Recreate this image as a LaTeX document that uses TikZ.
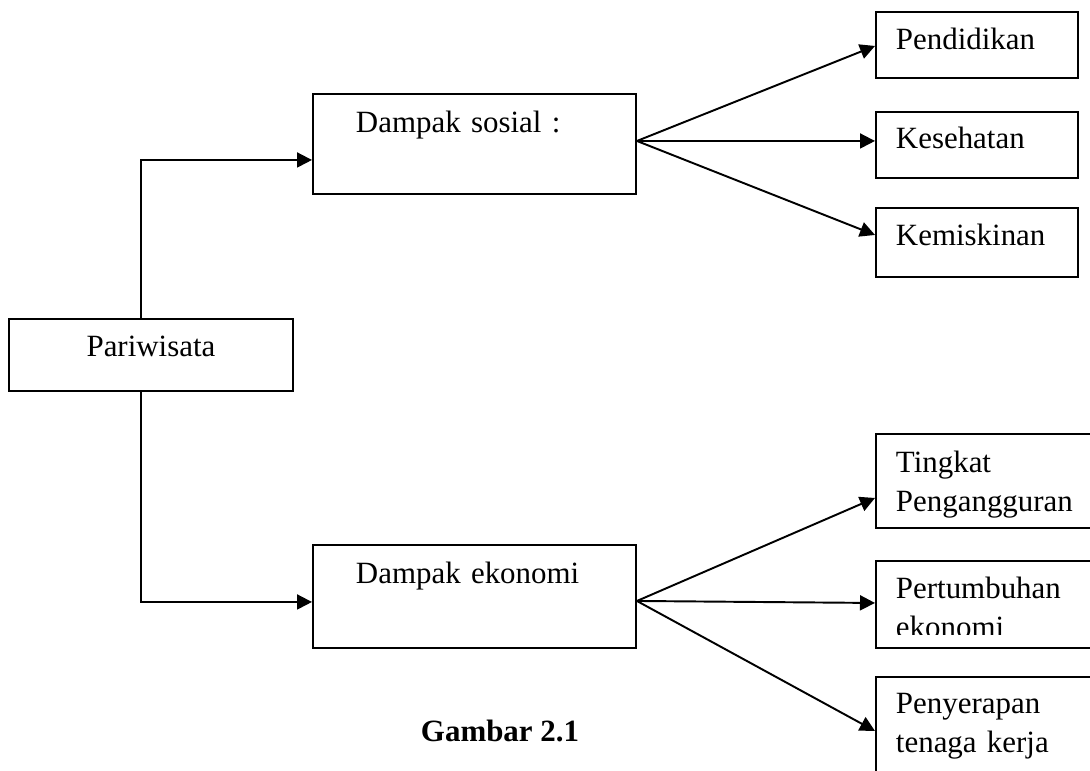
\documentclass[tikz,border=0pt]{standalone}
\usepackage{fontspec}
\setmainfont{Liberation Serif}
\usetikzlibrary{arrows.meta}
\newlength{\px}
\setlength{\px}{0.02cm}
\begin{document}
\begin{tikzpicture}[x=0.02cm, y=-0.02cm,
  font=\fontsize{17.6}{21.9}\selectfont,
  box/.style={draw, line width=1.1pt, anchor=north west, inner ysep=0pt, align=left},
  midbox/.style={box, inner xsep=43\px, text width=237\px},
  sidebox/.style={box, inner xsep=20\px, text width=162\px},
  widebox/.style={box, inner xsep=20\px, text width=190\px},
  arr/.style={-{Triangle[length=0.3cm, width=0.3cm]}, line width=1.1pt}]
\clip (0, 0) rectangle (1090, 771);

\node[box, inner xsep=0pt, text width=284\px, align=center, text height=38\px, text depth=34\px](pariwisata) at (8, 318) {Pariwisata};

\node[midbox, text height=39\px, text depth=61\px](sosial) at (312, 93) {Dampak sosial :};
\node[midbox, text height=39\px, text depth=64\px](ekonomi) at (312, 544) {Dampak ekonomi};

\node[sidebox, text height=38\px, text depth=28\px](pendidikan) at (875, 11) {Pendidikan};
\node[sidebox, text height=37\px, text depth=29\px](kesehatan) at (875, 111) {Kesehatan};
\node[sidebox, text height=38\px, text depth=31\px](kemiskinan) at (875, 207) {Kemiskinan};

\node[widebox, text height=39\px, text depth=55\px](tingkat) at (875, 433) {Tingkat\\Pengangguran};
\node[widebox, text height=37\px, text depth=50\px](pertumbuhan) at (875, 560) {};
\begin{scope}
\clip (pertumbuhan.north west) rectangle ([shift={(0,-14)}]pertumbuhan.south east);
\node[widebox, draw=none, text height=38\px, text depth=49\px](pertumbuhan-txt) at (875, 560) {Pertumbuhan\\ekonomi};
\end{scope}
\node[widebox, text height=37\px, text depth=87\px](penyerapan) at (875, 676) {Penyerapan\\tenaga kerja};

\node[anchor=base](gambar) at (500, 741) {\bfseries Gambar 2.1};

\draw[arr] ([shift={(-10,0)}]pariwisata.north) |- ([shift={(0,16)}]sosial.west);
\draw[arr] ([shift={(-10,0)}]pariwisata.south) |- ([shift={(0,5.5)}]ekonomi.west);

\coordinate (sosial-out) at ([shift={(0,-3)}]sosial.east);
\coordinate (ekonomi-out) at ([shift={(0,4.5)}]ekonomi.east);
\foreach \t/\d in {pendidikan/1, kesehatan/-4, kemiskinan/-7.5}
  \draw[arr] (sosial-out) -- ([shift={(0,\d)}]\t.west);
\foreach \t/\d in {tingkat/17, pertumbuhan/-1.5, penyerapan/-8}
  \draw[arr] (ekonomi-out) -- ([shift={(0,\d)}]\t.west);

\end{tikzpicture}
\end{document}
